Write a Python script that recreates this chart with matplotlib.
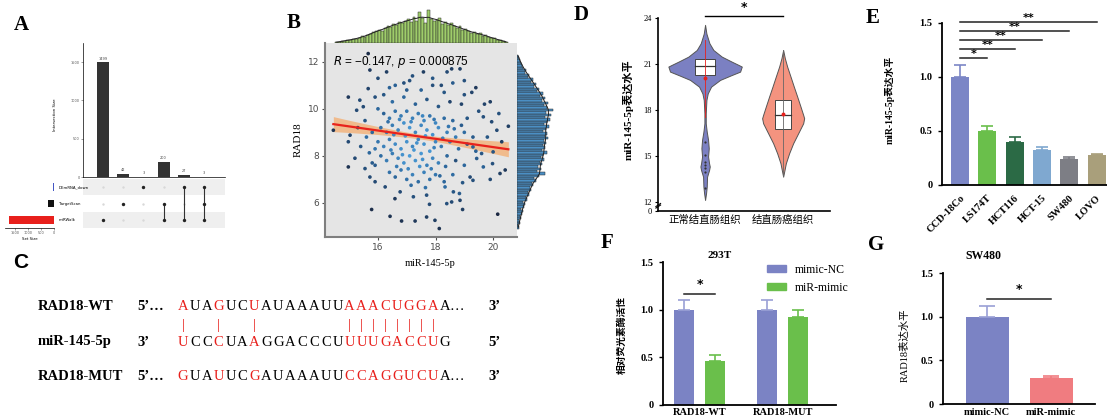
import numpy as np
import matplotlib.pyplot as plt
from matplotlib.colors import LinearSegmentedColormap
from matplotlib.patches import Patch

# ---------------- data ----------------
# A: UpSet plot
upset_counts = [1499, 42, 3, 200, 27, 3]
upset_sets = [[2], [1], [0], [1, 2], [0, 2], [0, 1, 2]]
set_names = ['DEmRNA_down', 'TargetScan', 'miRWalk']
set_sizes = [33, 245, 1729]
set_colors = ['#4457c4', '#111111', '#e8201c']

# B: correlation scatter (miR-145-5p vs RAD18)
b_points = [
    (15.66, 12.35), (14.45, 9.09), (14.97, 10.5), (14.97, 8.6), (14.97, 7.53), (15.03, 8.88),
    (15.72, 11.65), (16.0, 11.3), (16.3, 11.57), (17.58, 11.57), (18.4, 11.57), (18.56, 11.7),
    (18.85, 11.7), (19.26, 10.7), (19.9, 10.3), (19.66, 9.66), (19.95, 9.45), (20.53, 9.26),
    (20.13, 9.09), (20.0, 8.17), (20.24, 7.25), (20.42, 7.4), (15.55, 9.5), (15.26, 9.94),
    (15.37, 10.37), (15.66, 10.86), (15.49, 10.09), (15.55, 7.46), (15.9, 7.6), (15.72, 7.1),
    (15.9, 6.9), (16.25, 6.68), (16.77, 6.47), (17.23, 6.26), (17.69, 6.33), (18.33, 6.68),
    (18.62, 6.47), (18.85, 6.11), (19.3, 6.96), (19.66, 7.53), (19.43, 7.89), (19.3, 8.38),
    (15.78, 5.72), (16.59, 6.18), (16.42, 5.43), (16.82, 5.23), (17.29, 5.23), (17.69, 5.4),
    (17.98, 5.26), (18.13, 4.91), (17.79, 5.94), (18.39, 5.97), (18.56, 6.04), (18.94, 5.72),
    (20.16, 5.52), (19.98, 7.67), (18.94, 6.86), (18.83, 6.4), (15.7, 8.13),
    (16.9, 11.1), (17.2, 11.4), (17.9, 11.3), (18.2, 11.0), (19.0, 11.2), (19.4, 10.9),
    (17.0, 10.8), (16.4, 10.9), (15.9, 10.5), (19.7, 10.2), (20.2, 9.8), (19.8, 8.8),
    (20.3, 8.6), (19.6, 8.1), (19.9, 7.0),
    (16.2, 9.8), (16.4, 9.6), (16.6, 9.9), (16.8, 9.7), (17.0, 9.9), (17.2, 9.6), (17.4, 9.8),
    (17.6, 9.5), (17.8, 9.7), (18.0, 9.4), (18.3, 9.6), (18.6, 9.5), (18.9, 9.3), (19.1, 9.6),
    (16.1, 9.2), (16.3, 9.0), (16.5, 9.3), (16.7, 9.1), (16.9, 9.4), (17.1, 9.2), (17.3, 9.0),
    (17.5, 9.3), (17.7, 9.1), (17.9, 8.9), (18.1, 9.2), (18.4, 9.0), (18.7, 8.8), (19.0, 9.0),
    (19.3, 8.8), (16.0, 8.6), (16.2, 8.4), (16.4, 8.7), (16.6, 8.5), (16.8, 8.3), (17.0, 8.6),
    (17.2, 8.4), (17.4, 8.7), (17.6, 8.5), (17.8, 8.2), (18.0, 8.6), (18.2, 8.4), (18.5, 8.6),
    (18.8, 8.3), (19.1, 8.5), (16.1, 8.0), (16.3, 7.8), (16.5, 8.1), (16.7, 7.9), (16.9, 7.7),
    (17.1, 8.0), (17.3, 7.8), (17.5, 8.1), (17.7, 7.6), (17.9, 7.9), (18.1, 7.7), (18.4, 8.0),
    (18.7, 7.8), (19.0, 7.6), (16.4, 7.3), (16.6, 7.1), (16.8, 7.4), (17.0, 7.0), (17.2, 7.2),
    (17.4, 6.9), (17.6, 7.3), (17.8, 7.0), (18.0, 7.2), (18.3, 6.9), (18.6, 7.2), (19.2, 7.1),
    (16.5, 10.3), (16.9, 10.5), (17.3, 10.2), (17.7, 10.4), (18.1, 10.1), (18.5, 10.3),
    (18.9, 10.2), (16.2, 10.6), (17.5, 10.8), (18.3, 10.7), (19.0, 10.6), (16.6, 11.0),
    (17.1, 11.2), (17.9, 11.0), (18.6, 11.1), (16.0, 10.0), (19.5, 9.9), (19.4, 8.2),
    (15.8, 9.0), (15.9, 8.3), (15.6, 8.8), (15.8, 7.7),
    (16.35, 9.45), (16.75, 9.55), (17.15, 9.45), (17.55, 9.7), (17.95, 9.55), (18.45, 9.25),
    (16.55, 8.9), (16.95, 8.85), (17.35, 8.55), (17.65, 8.85), (18.25, 8.75), (18.65, 9.15),
    (16.45, 8.25), (16.85, 8.05), (17.25, 8.25), (17.55, 7.85), (17.95, 8.35), (18.35, 7.55),
    (16.65, 7.55), (17.05, 7.45), (17.45, 7.55), (17.85, 7.45), (18.15, 7.15), (17.15, 6.75),
    (17.65, 6.65), (15.3, 9.2), (15.4, 8.4), (15.2, 7.9),
]
top_hist_start = 14.5
top_hist = [1, 1, 2, 2, 3, 3, 4, 4, 5, 7, 6, 8, 9, 11, 12, 13, 12, 15, 17, 16, 19, 18, 21, 20,
            22, 24, 21, 26, 22, 31, 25, 20, 33, 24, 22, 23, 25, 19, 21, 18, 20, 17, 15, 17, 13,
            14, 12, 10, 11, 9, 10, 7, 8, 6, 5, 5, 3, 3, 2, 1]
right_hist_start = 4.9
right_hist = [2, 1, 3, 2, 4, 3, 5, 6, 4, 7, 8, 6, 10, 9, 12, 11, 14, 13, 16, 15, 19, 17, 22, 28,
              20, 24, 21, 25, 23, 27, 24, 26, 30, 25, 28, 26, 29, 27, 31, 28, 30, 26, 29, 32,
              27, 30, 33, 28, 34, 29, 36, 30, 27, 31, 25, 28, 23, 26, 20, 22, 17, 19, 14, 16,
              11, 12, 8, 9, 6, 5, 4, 3, 2, 1]
fit_x = [14.45, 20.53]
fit_y = [9.35, 8.28]
band_x = [14.45, 15.0, 16.0, 17.0, 17.5, 18.0, 19.0, 20.0, 20.53]
band_half = [0.32, 0.26, 0.17, 0.11, 0.10, 0.11, 0.18, 0.27, 0.32]

# C: binding sites
seq_wt = 'AUAGUCUAUAAAUUAAACUGGAA'
seq_mir = 'UCCCUAAGGACCCUUUUGACCUG'
seq_mut = 'GUAUUCGAUAAAUUCCAGGUCUA'
red_pos = [0, 3, 6, 14, 15, 16, 17, 18, 19, 20, 21]

# D: violin profiles (level, relative half width)
vio_groups = ['正常结直肠组织', '结直肠癌组织']
vio_left_y = [23.57, 23.0, 22.37, 21.93, 21.5, 21.17, 20.96, 20.85, 20.52, 20.3, 19.98, 19.54,
              19.1, 18.67, 17.8, 17.15, 16.6, 16.07, 15.52, 14.98, 14.54, 14.33, 14.1, 13.67,
              13.02, 12.6, 12.15]
vio_left_w = [0, 4, 13, 25, 50, 80, 100, 110, 105, 80, 45, 18, 8, 4, 2, 2, 5, 9, 11, 9, 12, 14,
              12, 6, 5, 3, 0]
vio_right_y = [21.93, 21.4, 20.85, 20.2, 19.54, 18.9, 18.24, 17.7, 17.48, 17.15, 16.5, 15.85,
               15.2, 14.54, 14.1, 13.67]
vio_right_w = [0, 5, 12, 22, 32, 42, 52, 60, 63, 60, 45, 30, 18, 8, 4, 0]
box_q1 = [20.28, 16.78]
box_med = [20.9, 17.7]
box_q3 = [21.33, 18.67]
box_lo = [17.59, 13.7]
box_hi = [22.59, 21.9]
box_mean = [20.09, 17.74]
low_dots = [15.96, 15.09, 14.65, 14.4, 14.22, 14.0, 12.96]

# E: cell lines
cell_lines = ['CCD-18Co', 'LS174T', 'HCT116', 'HCT-15', 'SW480', 'LOVO']
cell_vals = [1.0, 0.50, 0.40, 0.32, 0.24, 0.275]
cell_err = [0.11, 0.045, 0.045, 0.03, 0.015, 0.015]
cell_colors = ['#7b86c6', '#6abf4b', '#2b6a45', '#7fa8d0', '#7d7e85', '#a99f7b']
cell_stars = ['*', '**', '**', '**', '**']
cell_sig_y = [1.18, 1.26, 1.34, 1.43, 1.51]

# F: luciferase
luc_groups = ['RAD18-WT', 'RAD18-MUT']
luc_nc = [1.0, 1.0]
luc_nc_err = [0.1, 0.1]
luc_mimic = [0.46, 0.93]
luc_mimic_err = [0.07, 0.075]

# G: SW480
g_labels = ['mimic-NC', 'miR-mimic']
g_vals = [1.0, 0.30]
g_err = [0.13, 0.02]
g_colors = ['#7b83c4', '#f07c80']

# ---------------- figure ----------------
W, H = 1107, 420
fig = plt.figure(figsize=(W / 100, H / 100), dpi=100)
SERIF = ['Liberation Serif', 'Noto Sans CJK SC']
SANS = ['Liberation Sans', 'DejaVu Sans']


def add_ax(l, t, r, b):
    return fig.add_axes([l / W, 1 - b / H, (r - l) / W, (b - t) / H])


def ftext(x, y, s, **kw):
    fig.text(x / W, 1 - y / H, s, **kw)


def panel_letter(x, y, s, family=SERIF):
    ftext(x, y, s, fontsize=15, fontweight='bold', family=family, va='center', ha='left')


def style_bar_axes(ax, ymax):
    for s in ['top', 'right']:
        ax.spines[s].set_visible(False)
    ax.spines['left'].set_bounds(0, ymax)
    ax.spines['left'].set_linewidth(1.3)
    ax.spines['bottom'].set_linewidth(1.3)
    ax.tick_params(axis='y', length=3, width=1, labelsize=7.5, pad=4)
    ax.tick_params(axis='x', length=0, labelsize=7.5)
    for lab in ax.get_yticklabels() + ax.get_xticklabels():
        lab.set_family(SERIF)
        lab.set_fontweight('bold')


# ---- A ----
panel_letter(14, 25, 'A')
axa = add_ax(83, 43, 225, 177)
xs = np.arange(len(upset_counts))
axa.bar(xs, upset_counts, width=0.6, color='#333333')
for x, c in zip(xs, upset_counts):
    axa.text(x, c + 20, str(c), ha='center', va='bottom', fontsize=2.5, color='#444')
axa.set_xlim(-0.99, 6.04)
axa.set_ylim(0, 1748)
axa.set_yticks([0, 500, 1000, 1500])
axa.tick_params(axis='y', labelsize=2.5, length=1.5, width=0.4, pad=1, colors='#555')
axa.set_xticks([])
for s in ['top', 'right']:
    axa.spines[s].set_visible(False)
axa.spines['left'].set_linewidth(0.5)
axa.spines['bottom'].set_linewidth(0.5)
ftext(55, 115, 'Intersection Size', fontsize=2.8, rotation=90, va='center', ha='center')

axm_a = add_ax(83, 178, 225, 228)
axm_a.set_xlim(-0.99, 6.04)
axm_a.set_ylim(2.48, -0.55)
axm_a.axhspan(-0.5, 0.5, color='#efefef', lw=0)
axm_a.axhspan(1.5, 2.5, color='#efefef', lw=0)
for x, members in zip(xs, upset_sets):
    for r in range(3):
        if r not in members:
            axm_a.scatter(x, r, s=3, color='#d8d8d8', lw=0)
    if len(members) > 1:
        axm_a.plot([x, x], [min(members), max(members)], color='#333', lw=0.8)
    axm_a.scatter([x] * len(members), members, s=6, color='#222', lw=0, zorder=3)
axm_a.axis('off')

axs_a = add_ax(5, 178, 54, 228)
axs_a.barh(range(3), set_sizes, height=0.45, color=set_colors)
axs_a.set_xlim(1885, 0)
axs_a.set_ylim(2.48, -0.55)
axs_a.set_yticks([])
axs_a.set_xticks([1500, 1000, 500, 0])
axs_a.tick_params(axis='x', labelsize=2.5, length=1.5, width=0.4, pad=1, colors='#555')
for s in ['top', 'right', 'left']:
    axs_a.spines[s].set_visible(False)
axs_a.spines['bottom'].set_linewidth(0.5)
axs_a.set_xlabel('Set Size', fontsize=2.8, labelpad=1)
for r, name in enumerate(set_names):
    ftext(59, 187 + r * 16.5, name, fontsize=2.8, va='center', ha='left')

# ---- B ----
panel_letter(287, 23, 'B')
bx = np.array([p[0] for p in b_points])
by = np.array([p[1] for p in b_points])
ax_b = add_ax(325, 43, 517, 237)
ax_b.set_facecolor('#e5e5e5')
xl, yl = (14.16, 20.83), (4.55, 12.8)
ax_b.set_xlim(xl)
ax_b.set_ylim(yl)
dist = np.hypot(bx[:, None] - bx[None, :], by[:, None] - by[None, :])
dens = (dist < 0.75).sum(1)
cmap = LinearSegmentedColormap.from_list('bd', ['#1b2842', '#2b6499', '#4a9bd8'])
slope = (fit_y[1] - fit_y[0]) / (fit_x[1] - fit_x[0])
band_mid = fit_y[0] + (np.array(band_x) - fit_x[0]) * slope
ax_b.fill_between(band_x, band_mid - band_half, band_mid + band_half,
                  color='#f2b47e', alpha=0.85, lw=0, zorder=1)
ax_b.scatter(bx, by, c=dens, cmap=cmap, s=7, lw=0, zorder=2)
ax_b.plot(fit_x, fit_y, color='#e8231c', lw=1.6, zorder=3)
ax_b.text(14.45, 12.0, r'$R$ = −0.147, $p$ = 0.000875', fontsize=8.5, va='center', ha='left',
          family=SANS)
ax_b.set_xticks([16, 18, 20])
ax_b.set_yticks([6, 8, 10, 12])
ax_b.tick_params(labelsize=6.5, colors='#4d4d4d', length=2.5, width=0.8, pad=1.5)
for s in ['top', 'right']:
    ax_b.spines[s].set_visible(False)
for s in ['left', 'bottom']:
    ax_b.spines[s].set_color('#7f7f7f')
    ax_b.spines[s].set_linewidth(1.5)
ax_b.set_ylabel('RAD18', fontsize=8, family=SERIF, labelpad=4)
ftext(430, 263, 'miR-145-5p', fontsize=7.5, family=SERIF, ha='center', va='center')

ax_bt = add_ax(325, 5, 517, 43)
tx = top_hist_start + 0.1 * np.arange(len(top_hist))
ax_bt.bar(tx, top_hist, width=0.1, align='edge', color='#9fcd6a', edgecolor='#2b2b2b', lw=0.35)
k = np.array([1, 2, 3, 4, 3, 2, 1]) / 16
ax_bt.plot(tx + 0.05, np.convolve(top_hist, k, mode='same'), color='#222', lw=0.7)
ax_bt.set_xlim(xl)
ax_bt.set_ylim(0, 38)
ax_bt.axis('off')

ax_br = add_ax(517, 43, 560, 237)
ry = right_hist_start + 0.1 * np.arange(len(right_hist))
ax_br.barh(ry, right_hist, height=0.1, align='edge', color='#4b8fc4', edgecolor='#2b2b2b', lw=0.35)
ax_br.plot(np.convolve(right_hist, k, mode='same'), ry + 0.05, color='#222', lw=0.7)
ax_br.set_ylim(yl)
ax_br.set_xlim(0, 43)
ax_br.axis('off')

# ---- C ----
ftext(13, 263, 'C', fontsize=15, fontweight='bold', family=SANS, va='center')
rows = [('RAD18-WT', '5’…', seq_wt, '…', '3’', 307),
        ('miR-145-5p', '3’', seq_mir, '', '5’', 342),
        ('RAD18-MUT', '5’…', seq_mut, '…', '3’', 376)]
x0, step = 183, 11.9
for name, left, seq, tail, right, y in rows:
    ftext(38, y, name, fontsize=10.5, fontweight='bold', family=SERIF, va='center')
    ftext(137, y, left, fontsize=10.5, fontweight='bold', family=SERIF, va='center')
    ftext(488, y, right, fontsize=10.5, fontweight='bold', family=SERIF, va='center')
    for i, ch in enumerate(seq):
        ftext(x0 + i * step, y, ch, fontsize=10.5, family=SERIF, va='center', ha='center',
              color='#e8201c' if i in red_pos else 'black')
    if tail:
        ftext(x0 + (len(seq) - 1) * step + 5, y, tail, fontsize=10.5, family=SERIF, va='center')
for i in red_pos:
    ftext(x0 + i * step, 325, '|', fontsize=10.5, family=SERIF, va='center', ha='center',
          color='#e8201c')

# ---- D ----
panel_letter(574, 15, 'D')
ax_d = add_ax(658, 8, 830, 211)
ax_d.set_xlim(0.397, 2.6)
ax_d.set_ylim(11.43, 24.67)
vscale = 1 / 234
vio = [(vio_left_y, vio_left_w, '#7b80c2'), (vio_right_y, vio_right_w, '#f4937f')]
for i, (vy, vw, col) in enumerate(vio):
    pos = i + 1
    hw = np.array(vw) * vscale
    ax_d.fill_betweenx(vy, pos - hw, pos + hw, facecolor=col, edgecolor='#555', lw=0.7, zorder=1)
    wcol = '#e8201c' if i == 0 else '#666'
    ax_d.plot([pos, pos], [box_lo[i], box_hi[i]], color=wcol, lw=0.6, zorder=2)
    bw = 0.128 if i == 0 else 0.103
    ax_d.add_patch(plt.Rectangle((pos - bw, box_q1[i]), 2 * bw, box_q3[i] - box_q1[i],
                                 facecolor='white', edgecolor='#444', lw=0.7, zorder=3))
    ax_d.plot([pos - bw, pos + bw], [box_med[i]] * 2, color='#333', lw=0.9, zorder=4)
    ax_d.plot([pos, pos], [box_q1[i], box_q3[i]], color=wcol, lw=0.6, zorder=4)
    ax_d.scatter(pos, box_mean[i], s=8, color='#e8201c', zorder=5, lw=0)
ax_d.scatter([1] * len(low_dots), low_dots, s=2.5, color='#333', zorder=5, lw=0)
ax_d.plot([1, 2], [24.17, 24.17], color='black', lw=1, clip_on=False)
ax_d.text(1.5, 24.28, '*', ha='center', va='bottom', fontsize=9, fontweight='bold')
ax_d.plot([0.37, 0.43], [11.72, 11.92], color='black', lw=0.8, clip_on=False)
ax_d.plot([0.37, 0.43], [11.62, 11.82], color='black', lw=0.8, clip_on=False)
for s in ['top', 'right']:
    ax_d.spines[s].set_visible(False)
ax_d.spines['left'].set_bounds(11.43, 24)
ax_d.spines['left'].set_linewidth(1.2)
ax_d.spines['bottom'].set_linewidth(1.2)
ax_d.set_yticks([11.43, 12, 15, 18, 21, 24])
ax_d.set_yticklabels(['0', '12', '15', '18', '21', '24'])
ax_d.tick_params(axis='y', labelsize=6, length=2.5, pad=2)
for lab in ax_d.get_yticklabels():
    lab.set_family(SERIF)
ax_d.set_xticks([1, 2])
ax_d.set_xticklabels(vio_groups, fontsize=7.5, family=SERIF)
ax_d.tick_params(axis='x', length=0, pad=3)
ftext(628, 110, 'miR-145-5p表达水平', fontsize=8, fontweight='bold', family=SERIF, rotation=90,
      va='center', ha='center')

# ---- E ----
panel_letter(866, 18, 'E')
ax_e = add_ax(942, 10, 1107, 185)
xe = np.arange(len(cell_lines))
ax_e.bar(xe, cell_vals, width=0.66, color=cell_colors)
for x, v, e, c in zip(xe, cell_vals, cell_err, cell_colors):
    ax_e.errorbar(x, v, yerr=[[0], [e]], fmt='none', ecolor=c, capsize=4, elinewidth=1.2,
                  capthick=1.2)
for j, (st, sy) in enumerate(zip(cell_stars, cell_sig_y)):
    ax_e.plot([0, j + 1], [sy, sy], color='#222', lw=1.1, clip_on=False)
    ax_e.text((j + 1) / 2, sy - 0.01, st, ha='center', va='bottom', fontsize=8,
              fontweight='bold', clip_on=False)
ax_e.set_xlim(-0.66, 5.38)
ax_e.set_ylim(0, 1.62)
ax_e.set_yticks([0, 0.5, 1.0, 1.5])
ax_e.set_yticklabels(['0', '0.5', '1.0', '1.5'])
ax_e.set_xticks(xe)
ax_e.set_xticklabels(cell_lines, rotation=45, ha='right', rotation_mode='anchor')
style_bar_axes(ax_e, 1.5)
ax_e.tick_params(axis='x', pad=6)
ftext(890, 100, 'miR-145-5p表达水平', fontsize=7, fontweight='bold', family=SERIF, rotation=90,
      va='center', ha='center')

# ---- F ----
panel_letter(601, 243, 'F')
ax_f = add_ax(663, 258, 836, 405)
gpos = np.array([0, 2.68])
ax_f.bar(gpos, luc_nc, width=0.65, color='#7b83c4')
ax_f.bar(gpos + 1, luc_mimic, width=0.65, color='#6abf4b')
for p, v, e in zip(gpos, luc_nc, luc_nc_err):
    ax_f.errorbar(p, v, yerr=[[0], [e]], fmt='none', ecolor='#9aa0d6', capsize=4, elinewidth=1.2,
                  capthick=1.2)
for p, v, e in zip(gpos + 1, luc_mimic, luc_mimic_err):
    ax_f.errorbar(p, v, yerr=[[0], [e]], fmt='none', ecolor='#6abf4b', capsize=4, elinewidth=1.2,
                  capthick=1.2)
ax_f.plot([0, 1], [1.17, 1.17], color='#222', lw=1.1)
ax_f.text(0.5, 1.2, '*', ha='center', va='bottom', fontsize=9, fontweight='bold')
ax_f.set_xlim(-0.68, 4.9)
ax_f.set_ylim(0, 1.547)
ax_f.set_yticks([0, 0.5, 1.0, 1.5])
ax_f.set_yticklabels(['0', '0.5', '1.0', '1.5'])
ax_f.set_xticks(gpos + 0.5)
ax_f.set_xticklabels(luc_groups)
style_bar_axes(ax_f, 1.5)
ax_f.tick_params(axis='x', pad=2)
ftext(720, 256, '293T', fontsize=8, fontweight='bold', family=SERIF, ha='center', va='center')
ftext(622, 335, '相对荧光素酶活性', fontsize=7, fontweight='bold', family=SERIF, rotation=90,
      va='center', ha='center')
fig.legend(handles=[Patch(color='#7b83c4', label='mimic-NC'),
                    Patch(color='#6abf4b', label='miR-mimic')],
           loc='upper left', bbox_to_anchor=(756 / W, 1 - 253 / H), frameon=False,
           handlelength=1.6, handleheight=0.55, handletextpad=0.8, labelspacing=0.5,
           prop={'family': SERIF, 'size': 8.5})

# ---- G ----
panel_letter(868, 245, 'G')
ax_g = add_ax(943, 268, 1095, 404)
xg = np.arange(len(g_labels))
ax_g.bar(xg, g_vals, width=0.67, color=g_colors)
for x, v, e, c in zip(xg, g_vals, g_err, ['#9aa0d6', '#f07c80']):
    ax_g.errorbar(x, v, yerr=[[0], [e]], fmt='none', ecolor=c, capsize=6, elinewidth=1.2,
                  capthick=1.2)
ax_g.plot([0, 1], [1.21, 1.21], color='#222', lw=1.1)
ax_g.text(0.5, 1.24, '*', ha='center', va='bottom', fontsize=9, fontweight='bold')
ax_g.set_xlim(-0.69, 1.685)
ax_g.set_ylim(0, 1.563)
ax_g.set_yticks([0, 0.5, 1.0, 1.5])
ax_g.set_yticklabels(['0', '0.5', '1.0', '1.5'])
ax_g.set_xticks(xg)
ax_g.set_xticklabels(g_labels)
style_bar_axes(ax_g, 1.5)
ax_g.tick_params(axis='x', pad=3)
ftext(983, 256, 'SW480', fontsize=8.5, fontweight='bold', family=SERIF, ha='center', va='center')
ftext(905, 345, 'RAD18表达水平', fontsize=7.5, family=SERIF, rotation=90,
      va='center', ha='center')

fig.savefig('out.png', dpi=100)
